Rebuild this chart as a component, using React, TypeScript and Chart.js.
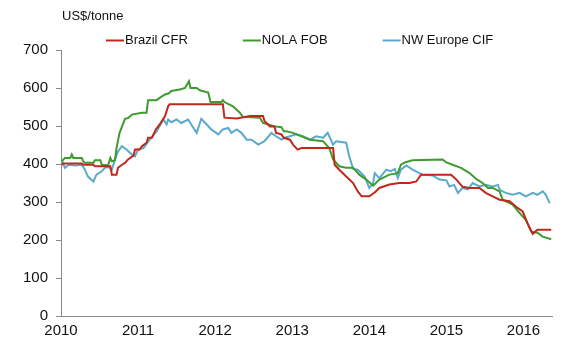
import React, { useEffect, useRef } from "react";
import { Chart, registerables } from "chart.js";

Chart.register(...registerables);

const unitLabel = "US$/tonne";
const seriesNames = ["Brazil CFR", "NOLA FOB", "NW Europe CIF"];
const seriesColors = ["#C0281A", "#3F9B2F", "#5BAACB"];
const xTickLabels = ["2010", "2011", "2012", "2013", "2014", "2015", "2016"];
const yTicks = [0, 100, 200, 300, 400, 500, 600, 700];

const brazilX = [
  2010.01, 2010.03, 2010.27, 2010.29, 2010.42, 2010.44, 2010.64, 2010.66, 2010.72, 2010.74,
  2010.79, 2010.83, 2010.87, 2010.94, 2010.96, 2011.02, 2011.05, 2011.11, 2011.13, 2011.18,
  2011.23, 2011.28, 2011.35, 2011.39, 2011.41, 2012.10, 2012.12, 2012.28, 2012.45, 2012.62,
  2012.64, 2012.71, 2012.77, 2012.79, 2012.86, 2012.89, 2012.97, 2013.01, 2013.07, 2013.12,
  2013.53, 2013.55, 2013.61, 2013.70, 2013.79, 2013.85, 2013.90, 2014.00, 2014.07, 2014.13,
  2014.26, 2014.39, 2014.52, 2014.61, 2014.67, 2015.06, 2015.13, 2015.21, 2015.30, 2015.43,
  2015.51, 2015.60, 2015.69, 2015.82, 2015.90, 2015.99, 2016.05, 2016.12, 2016.18, 2016.36,
];
const brazilY = [
  398, 401, 401, 398, 398, 394, 394, 372, 372, 390,
  398, 403, 412, 422, 438, 438, 447, 456, 469, 469,
  491, 504, 526, 552, 557, 557, 522, 520, 526, 526,
  513, 499, 499, 482, 478, 469, 464, 451, 438, 442,
  442, 398, 385, 367, 350, 328, 315, 315, 325, 337,
  346, 350, 350, 354, 372, 372, 359, 340, 337, 337,
  324, 315, 306, 302, 288, 275, 245, 216, 227, 227,
];

const nolaX = [
  2010.01, 2010.05, 2010.12, 2010.14, 2010.16, 2010.27, 2010.29, 2010.31, 2010.42, 2010.44,
  2010.51, 2010.53, 2010.61, 2010.64, 2010.66, 2010.70, 2010.72, 2010.76, 2010.81, 2010.83,
  2010.87, 2010.92, 2011.05, 2011.11, 2011.13, 2011.24, 2011.28, 2011.35, 2011.40, 2011.43,
  2011.54, 2011.61, 2011.66, 2011.68, 2011.76, 2011.80, 2011.91, 2011.94, 2012.08, 2012.10,
  2012.12, 2012.23, 2012.32, 2012.36, 2012.58, 2012.62, 2012.69, 2012.77, 2012.86, 2012.89,
  2012.92, 2013.01, 2013.23, 2013.40, 2013.48, 2013.53, 2013.61, 2013.70, 2013.79, 2013.87,
  2013.96, 2014.05, 2014.13, 2014.26, 2014.37, 2014.41, 2014.46, 2014.56, 2014.95, 2015.00,
  2015.08, 2015.19, 2015.30, 2015.39, 2015.47, 2015.54, 2015.60, 2015.69, 2015.73, 2015.86,
  2015.95, 2016.03, 2016.10, 2016.18, 2016.25, 2016.36,
];
const nolaY = [
  407, 416, 416, 425, 416, 416, 407, 403, 403, 410,
  410, 398, 396, 416, 407, 410, 442, 482, 508, 519,
  521, 530, 535, 535, 568, 568, 574, 583, 586, 592,
  596, 600, 618, 600, 600, 594, 588, 563, 563, 568,
  563, 552, 535, 524, 522, 508, 504, 499, 497, 486,
  486, 482, 464, 460, 442, 412, 394, 390, 390, 372,
  359, 343, 359, 372, 376, 398, 404, 410, 412, 404,
  398, 390, 376, 360, 350, 337, 337, 328, 306, 293,
  271, 253, 222, 219, 209, 202,
];

const europeX = [
  2010.01, 2010.05, 2010.10, 2010.18, 2010.27, 2010.31, 2010.35, 2010.42, 2010.46, 2010.53,
  2010.57, 2010.61, 2010.66, 2010.70, 2010.74, 2010.79, 2010.85, 2010.92, 2010.96, 2011.00,
  2011.07, 2011.15, 2011.24, 2011.33, 2011.37, 2011.39, 2011.43, 2011.50, 2011.56, 2011.65,
  2011.69, 2011.76, 2011.82, 2011.89, 2011.95, 2012.04, 2012.10, 2012.17, 2012.21, 2012.28,
  2012.34, 2012.41, 2012.47, 2012.56, 2012.64, 2012.73, 2012.79, 2012.86, 2012.90, 2012.97,
  2013.05, 2013.14, 2013.23, 2013.31, 2013.40, 2013.46, 2013.53, 2013.57, 2013.70, 2013.74,
  2013.79, 2013.85, 2013.94, 2014.00, 2014.05, 2014.07, 2014.13, 2014.22, 2014.28, 2014.33,
  2014.37, 2014.41, 2014.48, 2014.56, 2014.69, 2014.82, 2014.91, 2015.00, 2015.04, 2015.10,
  2015.15, 2015.21, 2015.28, 2015.34, 2015.43, 2015.51, 2015.60, 2015.67, 2015.69, 2015.77,
  2015.86, 2015.95, 2016.03, 2016.12, 2016.18, 2016.25, 2016.29, 2016.34,
];
const europeY = [
  410, 390, 398, 396, 398, 385, 367, 354, 372, 381,
  390, 392, 385, 412, 433, 447, 438, 425, 420, 438,
  442, 464, 486, 517, 504, 517, 510, 517, 508, 517,
  504, 482, 519, 504, 491, 478, 491, 495, 482, 491,
  482, 464, 464, 451, 460, 482, 473, 464, 469, 473,
  478, 473, 464, 473, 469, 482, 451, 460, 456, 420,
  387, 385, 367, 337, 350, 376, 363, 385, 381, 387,
  363, 385, 396, 385, 372, 370, 359, 357, 341, 345,
  324, 337, 333, 350, 341, 345, 341, 345, 332, 324,
  319, 324, 315, 324, 319, 328, 319, 297,
];

const FONT = '"Liberation Sans", Arial, sans-serif';

const headerPlugin = {
  id: "header",
  afterDraw(chart: any) {
    const ctx = chart.ctx;
    ctx.save();
    ctx.font = `13px ${FONT}`;
    ctx.fillStyle = "#111";
    ctx.textBaseline = "middle";
    ctx.textAlign = "left";
    ctx.fillText(unitLabel, 62, 16);
    let x = 106;
    const y = 40.5;
    chart.data.datasets.forEach((ds: any) => {
      ctx.strokeStyle = ds.borderColor;
      ctx.lineWidth = 2;
      ctx.beginPath();
      ctx.moveTo(x, y);
      ctx.lineTo(x + 18, y);
      ctx.stroke();
      ctx.fillStyle = "#111";
      ctx.fillText(ds.label, x + 19, y);
      x += 19 + ctx.measureText(ds.label).width + 55;
    });
    ctx.restore();
  },
};

function toPoints(xs: number[], ys: number[]) {
  return xs.map((x, i) => ({ x, y: ys[i] }));
}

export default function App() {
  const ref = useRef<HTMLCanvasElement | null>(null);
  useEffect(() => {
    if (!ref.current) return;
    const series = [
      toPoints(brazilX, brazilY),
      toPoints(nolaX, nolaY),
      toPoints(europeX, europeY),
    ];
    const chart = new Chart(ref.current, {
      type: "line",
      data: {
        datasets: series.map((data, i) => ({
          label: seriesNames[i],
          data,
          borderColor: seriesColors[i],
          backgroundColor: seriesColors[i],
          borderWidth: 2,
          pointRadius: 0,
          tension: 0,
        })),
      },
      plugins: [headerPlugin],
      options: {
        responsive: false,
        animation: false,
        layout: { padding: { top: 50, right: 28, bottom: 0, left: 0 } },
        plugins: { legend: { display: false }, tooltip: { enabled: false } },
        scales: {
          x: {
            type: "linear",
            min: 2010,
            max: 2016.37,
            afterFit: (s: any) => {
              s.height = 37;
            },
            ticks: {
              stepSize: 1,
              includeBounds: false,
              maxRotation: 0,
              autoSkip: false,
              padding: 6,
              color: "#111",
              font: { family: FONT, size: 15 },
              callback: (v: any) => {
                const i = Math.round(Number(v) - 2010);
                return xTickLabels[i] ?? "";
              },
            },
            grid: { display: true, drawOnChartArea: false, drawTicks: false },
            border: { display: true, color: "#8a8a8a", width: 1 },
          },
          y: {
            min: 0,
            max: 700,
            afterFit: (s: any) => {
              s.width = 61;
            },
            afterBuildTicks: (s: any) => {
              s.ticks = yTicks.map((v) => ({ value: v }));
            },
            ticks: {
              padding: 8,
              color: "#111",
              font: { family: FONT, size: 15 },
              callback: (v: any) => String(v),
            },
            grid: {
              display: true,
              drawOnChartArea: false,
              drawTicks: true,
              tickLength: 5,
              color: "#8a8a8a",
            },
            border: { display: true, color: "#8a8a8a", width: 1 },
          },
        },
      },
    });
    return () => chart.destroy();
  }, []);
  return (
    <div style={{ position: "absolute", left: 0, top: 0, width: 580, height: 353, background: "#fff" }}>
      <canvas ref={ref} width={580} height={353} style={{ display: "block" }} />
    </div>
  );
}
